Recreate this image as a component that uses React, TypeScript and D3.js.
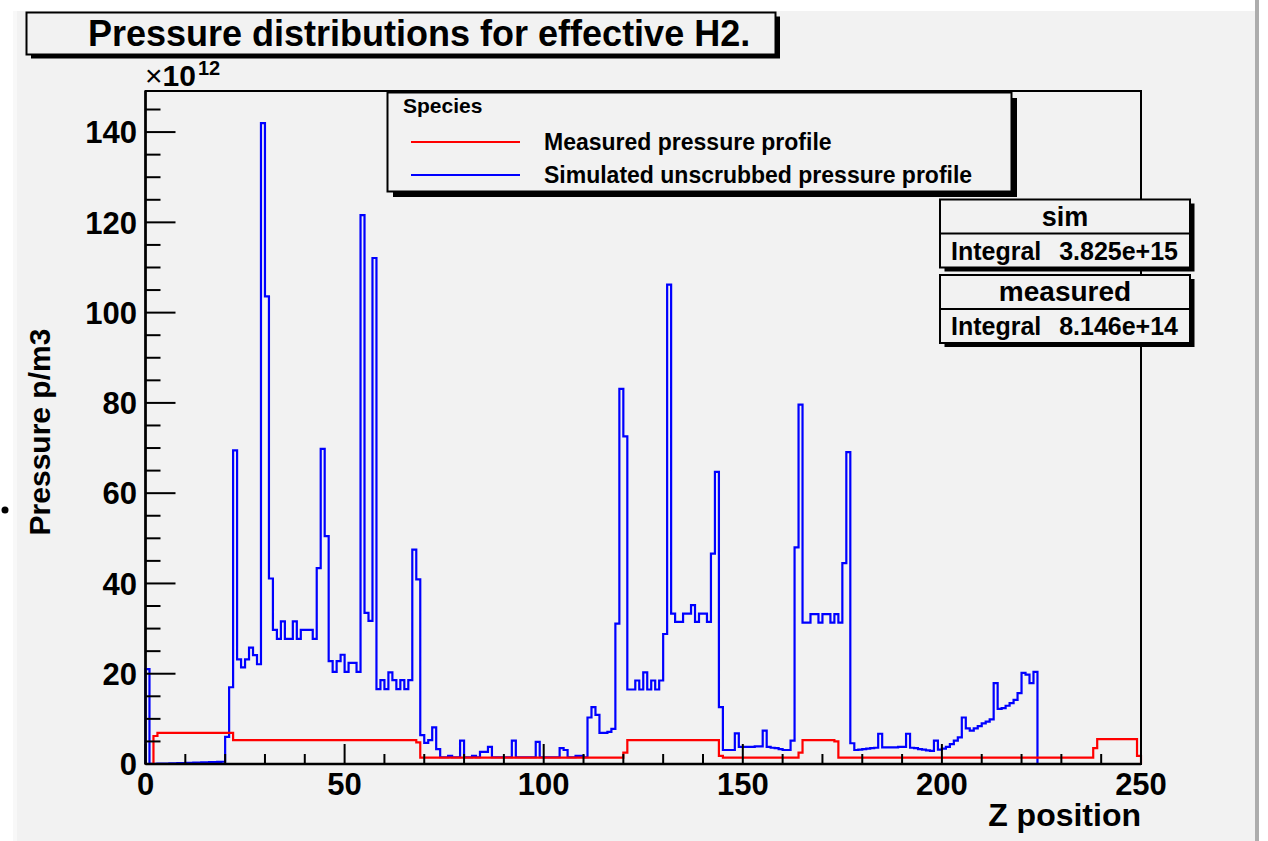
import React from "react";
import * as d3 from "d3";

// ---- data ----
const Z_MIN = 0;
const Z_MAX = 250;
const BIN_WIDTH = 1;
const Y_MAX = 149.1; // x10^12

// Simulated unscrubbed pressure profile (x10^12), one value per bin of width 1
const simulated: number[] = [
  21.0, 0.05, 0.05, 0.1, 0.1, 0.1, 0.15, 0.15, 0.2, 0.2,
  0.25, 0.25, 0.3, 0.3, 0.35, 0.35, 0.4, 0.4, 0.45, 0.5,
  6.0, 17.0, 69.5, 23.2, 21.4, 23.2, 25.8, 24.1, 22.1, 142.0,
  103.6, 41.1, 29.7, 27.7, 31.6, 27.7, 27.7, 31.6, 27.7, 29.7,
  29.7, 29.7, 27.7, 43.4, 69.8, 50.5, 22.8, 20.4, 22.8, 24.2,
  20.4, 22.4, 22.4, 20.4, 121.6, 33.5, 31.7, 112.1, 16.6, 18.6,
  16.6, 20.3, 18.6, 16.6, 18.6, 16.6, 18.6, 47.5, 40.9, 6.4,
  4.7, 5.3, 8.1, 3.3, 1.5, 1.5, 1.8, 1.5, 1.5, 5.2,
  1.5, 1.5, 1.8, 1.5, 2.7, 2.7, 3.8, 1.5, 1.5, 1.5,
  1.5, 1.5, 5.2, 1.5, 1.5, 1.5, 1.5, 1.5, 4.9, 1.5,
  1.5, 1.5, 1.5, 1.5, 3.5, 3.1, 1.5, 1.5, 1.8, 1.8,
  1.5, 10.3, 12.6, 10.9, 6.9, 6.9, 7.1, 7.8, 31.1, 83.1,
  72.6, 16.5, 16.5, 18.5, 16.5, 20.3, 16.5, 18.5, 16.5, 18.5,
  28.8, 106.2, 33.3, 31.5, 31.5, 33.3, 33.3, 35.2, 31.5, 33.3,
  33.3, 31.5, 46.6, 64.7, 12.6, 3.1, 3.1, 3.1, 6.8, 3.8,
  3.8, 3.8, 3.8, 3.9, 3.9, 7.4, 3.8, 3.6, 3.5, 3.3,
  3.1, 3.1, 5.2, 48.0, 79.6, 31.3, 31.3, 33.2, 33.2, 31.3,
  33.2, 33.2, 31.3, 33.2, 31.3, 44.5, 69.1, 4.6, 3.1, 3.2,
  3.3, 3.4, 3.5, 3.6, 6.7, 3.7, 3.7, 3.7, 3.7, 3.8,
  3.8, 6.7, 3.6, 3.5, 3.3, 3.2, 3.0, 2.9, 5.2, 3.2,
  3.4, 3.8, 4.4, 5.2, 5.9, 10.3, 7.9, 7.4, 7.9, 8.4,
  9.0, 9.4, 9.9, 17.9, 12.2, 12.4, 12.9, 13.5, 14.2, 15.7,
  20.2, 19.8, 17.9, 20.4, 0, 0, 0, 0, 0, 0,
  0, 0, 0, 0, 0, 0, 0, 0, 0, 0,
  0, 0, 0, 0, 0, 0, 0, 0, 0, 0,
];

// Measured pressure profile (x10^12): piecewise constant, step edges in Z and level per step
const measuredEdges: number[] = [0, 2, 3, 22, 68, 69, 120, 121, 144, 145, 164, 165, 173, 174, 238, 239, 249, 250];
const measuredLevels: number[] = [0, 6.2, 6.9, 5.3, 4.8, 1.4, 2.5, 5.3, 1.8, 1.4, 2.5, 5.3, 5.0, 1.4, 3.5, 5.5, 1.8];

const xTickLabels = ["0", "50", "100", "150", "200", "250"];
const yTickLabels = ["0", "20", "40", "60", "80", "100", "120", "140"];

const titleText = "Pressure distributions for effective H2.";
const legendHeader = "Species";
const legendNames = ["Measured pressure profile", "Simulated unscrubbed pressure profile"];
const legendColors = ["#ff0000", "#0000ff"];
const statNames = ["sim", "measured"];
const statIntegrals = ["3.825e+15", "8.146e+14"];

const FONT = "'Liberation Sans', Arial, Helvetica, sans-serif";

export default function App() {
  const W = 1268;
  const H = 841;
  const x = d3.scaleLinear().domain([Z_MIN, Z_MAX]).range([145.5, 1141]);
  const y = d3.scaleLinear().domain([0, Y_MAX]).range([764, 91]);

  const line = d3
    .line<[number, number]>()
    .x((d) => x(d[0]))
    .y((d) => y(d[1]));

  const simPts: [number, number][] = [[Z_MIN, 0]];
  simulated.forEach((v, i) => {
    const a = Z_MIN + i * BIN_WIDTH;
    simPts.push([a, v], [a + BIN_WIDTH, v]);
  });
  simPts.push([Z_MAX, 0]);

  const measPts: [number, number][] = [[Z_MIN, 0]];
  measuredLevels.forEach((v, i) => {
    measPts.push([measuredEdges[i], v], [measuredEdges[i + 1], v]);
  });
  measPts.push([Z_MAX, 0]);

  const xMinor = d3.range(Z_MIN, Z_MAX + 0.001, 10);
  const yMinor = d3.range(0, Y_MAX, 5);

  const x0 = x(Z_MIN);
  const x1 = x(Z_MAX);
  const yb = y(0);
  const yt = y(Y_MAX);

  const statBoxes = [{ top: 199.5 }, { top: 275 }];

  return (
    <svg
      width={W}
      height={H}
      style={{ position: "absolute", left: 0, top: 0, display: "block" }}
      fontFamily={FONT}
    >
      <rect x={0} y={0} width={W} height={H} fill="#ffffff" />
      <rect x={13} y={11} width={4} height={H - 11} fill="#f8f8f8" />
      <rect x={17} y={11} width={1238} height={H - 11} fill="#f2f2f2" />
      <rect x={1255} y={0} width={4} height={H} fill="#adadad" />
      <circle cx={5} cy={510} r={3.5} fill="#000" />

      {/* title box */}
      <rect x={31} y={16.5} width={749} height={42} fill="#000" />
      <rect x={26.5} y={12.5} width={749} height={42} fill="#f2f2f2" stroke="#000" strokeWidth={2} />
      <text x={88} y={46} fontSize={36} fontWeight="bold" fill="#000">
        {titleText}
      </text>

      {/* frame */}
      <rect x={x0} y={yt} width={x1 - x0} height={yb - yt} fill="none" stroke="#000" strokeWidth={2} />

      {/* histograms */}
      <path d={line(simPts) || ""} fill="none" stroke="#0000ff" strokeWidth={2.2} strokeLinejoin="miter" />
      <path d={line(measPts) || ""} fill="none" stroke="#ff0000" strokeWidth={2.2} strokeLinejoin="miter" />

      {/* x axis */}
      <line x1={x0} x2={x1} y1={yb} y2={yb} stroke="#000" strokeWidth={2.5} />
      {xMinor.map((t) => {
        const major = t % 50 === 0;
        return (
          <line key={"xt" + t} x1={x(t)} x2={x(t)} y1={yb} y2={yb - (major ? 20 : 10)} stroke="#000" strokeWidth={2} />
        );
      })}
      {xTickLabels.map((s) => (
        <text key={"xl" + s} x={x(+s)} y={795} fontSize={31} fontWeight="bold" textAnchor="middle" fill="#000">
          {s}
        </text>
      ))}
      <text x={x1} y={826} fontSize={32} fontWeight="bold" textAnchor="end" fill="#000">
        Z position
      </text>

      {/* y axis */}
      <line x1={x0} x2={x0} y1={yb} y2={yt} stroke="#000" strokeWidth={2.5} />
      {yMinor.map((t) => {
        const major = t % 20 === 0;
        return (
          <line key={"yt" + t} x1={x0} x2={x0 + (major ? 30 : 15)} y1={y(t)} y2={y(t)} stroke="#000" strokeWidth={2} />
        );
      })}
      {yTickLabels.map((s) => (
        <text key={"yl" + s} x={137} y={y(+s)} dy="0.36em" fontSize={31} fontWeight="bold" textAnchor="end" fill="#000">
          {s}
        </text>
      ))}
      <text x={145} y={86} fontSize={30} fill="#000">
        <tspan fontWeight="normal">×</tspan>
        <tspan fontWeight="bold">10</tspan>
      </text>
      <text x={198} y={75} fontSize={20} fontWeight="bold" fill="#000">
        12
      </text>
      <text
        transform={`translate(50, ${432}) rotate(-90)`}
        fontSize={30}
        fontWeight="bold"
        textAnchor="middle"
        fill="#000"
      >
        Pressure p/m3
      </text>

      {/* legend */}
      <rect x={393} y={98} width={624} height={99} fill="#000" />
      <rect x={387.5} y={92.5} width={624} height={99} fill="#f2f2f2" stroke="#000" strokeWidth={2} />
      <text x={403} y={113} fontSize={21} fontWeight="bold" fill="#000">
        {legendHeader}
      </text>
      {legendNames.map((n, i) => (
        <g key={n}>
          <line x1={411} x2={520} y1={142 + i * 33} y2={142 + i * 33} stroke={legendColors[i]} strokeWidth={2} />
          <text x={544} y={150 + i * 33} fontSize={23} fontWeight="bold" fill="#000">
            {n}
          </text>
        </g>
      ))}

      {/* stats boxes */}
      {statBoxes.map((b, i) => (
        <g key={statNames[i]}>
          <rect x={944.5} y={b.top + 4} width={250} height={68} fill="#000" />
          <rect x={940} y={b.top} width={250} height={68} fill="#f2f2f2" stroke="#000" strokeWidth={2} />
          <line x1={940} x2={1190} y1={b.top + 34} y2={b.top + 34} stroke="#000" strokeWidth={2} />
          <text x={1065} y={b.top + 26} fontSize={i === 0 ? 27 : 28} fontWeight="bold" textAnchor="middle" fill="#000">
            {statNames[i]}
          </text>
          <text x={951} y={b.top + 60} fontSize={25} fontWeight="bold" fill="#000">
            Integral
          </text>
          <text x={1178} y={b.top + 60} fontSize={25} fontWeight="bold" textAnchor="end" fill="#000">
            {statIntegrals[i]}
          </text>
        </g>
      ))}
    </svg>
  );
}
